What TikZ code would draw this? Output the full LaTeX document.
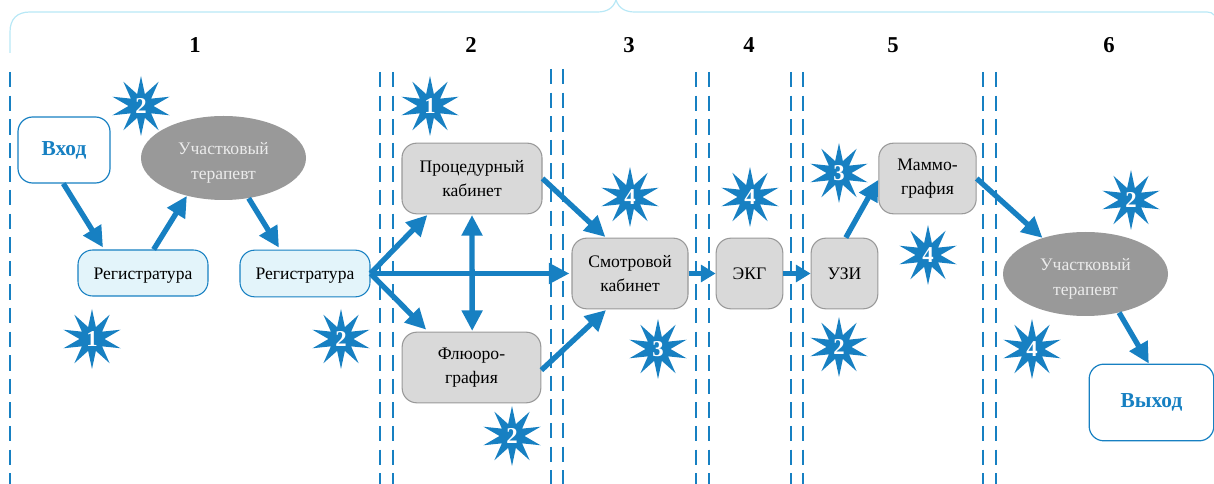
\documentclass[tikz,border=0pt]{standalone}
\usepackage{fontspec}
\setmainfont{Liberation Serif}
\usetikzlibrary{shapes.geometric,arrows.meta}
\definecolor{mblue}{HTML}{1780C2}
\definecolor{lcyan}{HTML}{B8E8F6}
\definecolor{regfill}{HTML}{E3F4FA}
\definecolor{boxfill}{HTML}{D9D9D9}
\definecolor{boxline}{HTML}{999999}
\definecolor{ellfill}{HTML}{999999}
\tikzset{
  px/.style={x=0.75pt,y=-0.75pt},
  basebox/.style={rounded corners=11pt,align=center,inner sep=0pt,font=\fontsize{13.2}{18.4}\selectfont},
  graybox/.style={basebox,draw=boxline,line width=0.8pt,fill=boxfill,text=black},
  regbox/.style={basebox,draw=mblue,line width=0.8pt,fill=regfill,text=black},
  endbox/.style={basebox,draw=mblue,line width=0.9pt,fill=white,text=mblue,font=\fontsize{16}{18}\selectfont\bfseries},
  therapist/.style={ellipse,fill=ellfill,text=white!92!black,align=center,inner sep=0pt,minimum width=123.75pt,minimum height=63pt,font=\fontsize{13.2}{18.4}\selectfont},
  flow/.style={draw=mblue,line width=4pt,-{Triangle[length=15.5pt,width=15pt]}},
  shortflow/.style={draw=mblue,line width=4pt,-{Triangle[length=11pt,width=12.5pt]}},
  burst/.style={star,star points=10,star point ratio=2.4,fill=mblue,text=white,inner sep=0pt,minimum size=45pt,font=\fontsize{17}{17}\selectfont\bfseries},
  divider/.style={draw=mblue,line width=2pt,dash pattern=on 11.6pt off 6.1pt},
  bracket/.style={draw=lcyan,line width=0.9pt},
  stage/.style={inner sep=0pt,font=\fontsize{17}{18}\selectfont\bfseries}
}
\begin{document}
\begin{tikzpicture}[px]
\useasboundingbox (0,0) rectangle (1214,484);
% top bracket
\draw[bracket] (10,53) -- (10,32) .. controls (10,19) and (17,12) .. (30,12) -- (597,12) .. controls (606,12) and (613,9) .. (616,0) .. controls (619,9) and (626,12) .. (635,12) -- (1207,12) .. controls (1210,12) and (1213,13) .. (1214,15);
% stage numbers
\node[stage] (s1) at (195,45) {1};
\node[stage] (s2) at (471,45) {2};
\node[stage] (s3) at (629,45) {3};
\node[stage] (s4) at (749,45) {4};
\node[stage] (s5) at (893,45) {5};
\node[stage] (s6) at (1109,45) {6};
% dividers
\foreach \xx/\yy in {10/72,380/72,393/72,551/69,563/69,696/72,709/72,791/72,803/72,983/72,996/72}
  \draw[divider] (\xx,\yy) -- (\xx,484);
% nodes
\node[endbox,minimum width=69pt,minimum height=49.5pt] (vhod) at (64,150) {Вход};
\node[therapist] (ter1) at (223.5,158) {\rule{0pt}{16.5pt}Участковый\\терапевт};
\node[regbox,minimum width=97.5pt,minimum height=34.5pt] (reg1) at (143,273) {\rule{0pt}{12pt}Регистратура};
\node[regbox,minimum width=97.5pt,minimum height=35pt] (reg2) at (305,273.5) {\rule{0pt}{12pt}Регистратура};
\node[graybox,minimum width=105pt,minimum height=53pt] (proc) at (472,178.5) {Процедурный\\кабинет};
\node[graybox,minimum width=104pt,minimum height=53pt] (fluo) at (471.5,367.5) {Флюоро-\\графия};
\node[graybox,minimum width=87pt,minimum height=53pt] (smot) at (630,273.5) {Смотровой\\кабинет};
\node[graybox,minimum width=50pt,minimum height=53pt] (ekg) at (749.5,273.5) {ЭКГ};
\node[graybox,minimum width=50pt,minimum height=53pt] (uzi) at (844.5,273.5) {УЗИ};
\node[graybox,minimum width=73pt,minimum height=53pt] (mamm) at (927.5,178.5) {Маммо-\\графия};
\node[therapist] (ter2) at (1085.5,274) {\rule{0pt}{16.5pt}Участковый\\терапевт};
\node[endbox,minimum width=93.5pt,minimum height=57.5pt] (vyh) at (1151.5,402.5) {Выход};
% connectors
\draw[flow] ([xshift=-0.5pt]vhod.south) -- ([xshift=-30pt,yshift=1.5pt]reg1.north);
\draw[flow] ([xshift=8pt]reg1.north) -- (ter1.-134);
\draw[flow] (ter1.-58) -- ([xshift=-19.5pt,yshift=1.5pt]reg2.north);
\draw[flow] (reg2.east) -- ([xshift=-33.5pt,yshift=-0.5pt]proc.south);
\draw[flow] (reg2.east) -- ([xshift=-34pt,yshift=1.5pt]fluo.north);
\draw[flow] (reg2.east) -- ([xshift=-1.5pt]smot.west);
\draw[flow,{Triangle[length=15.5pt,width=15pt]}-{Triangle[length=15.5pt,width=15pt]}] ([yshift=-0.5pt]proc.south) -- ([xshift=0.5pt,yshift=0.5pt]fluo.north);
\draw[flow] (proc.east) -- ([xshift=-18.5pt,yshift=0.5pt]smot.north);
\draw[flow] ([yshift=-2pt]fluo.east) -- ([xshift=-18pt,yshift=-0.5pt]smot.south);
\draw[shortflow] (smot.east) -- (ekg.west);
\draw[shortflow] (ekg.east) -- (uzi.west);
\draw[flow] ([xshift=1pt]uzi.north) -- ([yshift=-1pt]mamm.west);
\draw[flow] (mamm.east) -- (ter2.140);
\draw[flow] (ter2.-49) -- ([xshift=-2pt]vyh.north);
% bursts
\node[burst] (b1) at (141,106) {2};
\node[burst] (b2) at (92,339) {1};
\node[burst] (b3) at (341,339) {2};
\node[burst] (b4) at (430,106) {1};
\node[burst] (b5) at (630,197) {4};
\node[burst] (b6) at (750,197) {4};
\node[burst] (b7) at (658,349) {3};
\node[burst] (b8) at (512,436) {2};
\node[burst] (b9) at (839,173) {3};
\node[burst] (b10) at (928,255) {4};
\node[burst] (b11) at (839,347) {2};
\node[burst] (b12) at (1131,200) {2};
\node[burst] (b13) at (1032,349) {4};
\end{tikzpicture}
\end{document}
